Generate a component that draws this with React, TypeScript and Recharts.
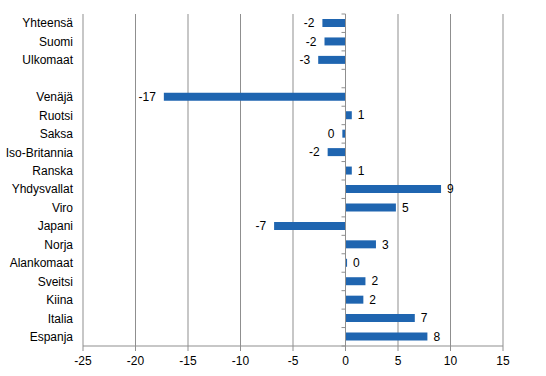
import { BarChart, Bar, XAxis, YAxis, CartesianGrid, ReferenceLine, LabelList } from 'recharts';

const categories = [
  'Yhteensä', 'Suomi', 'Ulkomaat', '', 'Venäjä', 'Ruotsi', 'Saksa', 'Iso-Britannia', 'Ranska',
  'Yhdysvallat', 'Viro', 'Japani', 'Norja', 'Alankomaat', 'Sveitsi', 'Kiina', 'Italia', 'Espanja',
];
const values = [
  -2.2, -2.0, -2.6, null, -17.3, 0.6, -0.3, -1.7, 0.6,
  9.1, 4.8, -6.8, 2.9, 0.15, 1.9, 1.7, 6.6, 7.8,
];
const xTicks = [-25, -20, -15, -10, -5, 0, 5, 10, 15];

const W = 546;
const H = 376;
const AXIS_W = 83;
const RIGHT = 43;
const TOP = 14;
const XAXIS_H = 30;
const PLOT_W = W - AXIS_W - RIGHT;
const PLOT_H = H - TOP - XAXIS_H;
const BAND = PLOT_H / categories.length;
const ZERO_X = AXIS_W + ((0 - xTicks[0]) / (xTicks[xTicks.length - 1] - xTicks[0])) * PLOT_W;

const GRID = '#8f8f8f';
const BAR = '#1f65b0';
const FONT = '"Liberation Sans", Arial, sans-serif';

const data = categories.map((name, i) => ({ name: name || ' ', value: values[i] }));

function CategoryTick(props: any) {
  const { y, payload, index } = props;
  const top = y - BAND / 2;
  return (
    <g>
      <text x={73} y={y} dy="0.35em" textAnchor="end" fontSize={12} fontFamily={FONT} fill="#000">
        {payload.value}
      </text>
      <line x1={ZERO_X - 4} x2={ZERO_X} y1={top} y2={top} stroke={GRID} />
      {index === categories.length - 1 && (
        <line x1={ZERO_X - 4} x2={ZERO_X} y1={top + BAND} y2={top + BAND} stroke={GRID} />
      )}
    </g>
  );
}

function ValueLabel(props: any) {
  const { x, y, width, height, value } = props;
  if (value === null || value === undefined) return null;
  const left = Math.min(x, x + width);
  const right = Math.max(x, x + width);
  const neg = value < 0;
  return (
    <text
      x={neg ? left - 8 : right + 6}
      y={y + height / 2}
      dy="0.35em"
      textAnchor={neg ? 'end' : 'start'}
      fontSize={12}
      fontFamily={FONT}
      fill="#000"
    >
      {String(Math.round(value))}
    </text>
  );
}

export default function App() {
  return (
    <div style={{ position: 'absolute', left: 0, top: 0, background: '#fff' }}>
      <BarChart
        width={W}
        height={H}
        data={data}
        layout="vertical"
        margin={{ top: TOP, right: RIGHT, bottom: 0, left: 0 }}
        barSize={8}
      >
        <CartesianGrid horizontal={false} vertical stroke={GRID} />
        <XAxis
          type="number"
          domain={[-25, 15]}
          ticks={xTicks}
          interval={0}
          height={XAXIS_H}
          axisLine={{ stroke: GRID }}
          tickLine={{ stroke: GRID }}
          tickSize={5}
          tickMargin={5}
          tick={{ fontSize: 12, fontFamily: FONT, fill: '#000' }}
        />
        <YAxis
          type="category"
          dataKey="name"
          width={AXIS_W}
          axisLine={false}
          tickLine={false}
          interval={0}
          tick={<CategoryTick />}
        />
        <ReferenceLine x={0} stroke={GRID} />
        <Bar dataKey="value" fill={BAR} isAnimationActive={false}>
          <LabelList dataKey="value" content={<ValueLabel />} />
        </Bar>
      </BarChart>
    </div>
  );
}
